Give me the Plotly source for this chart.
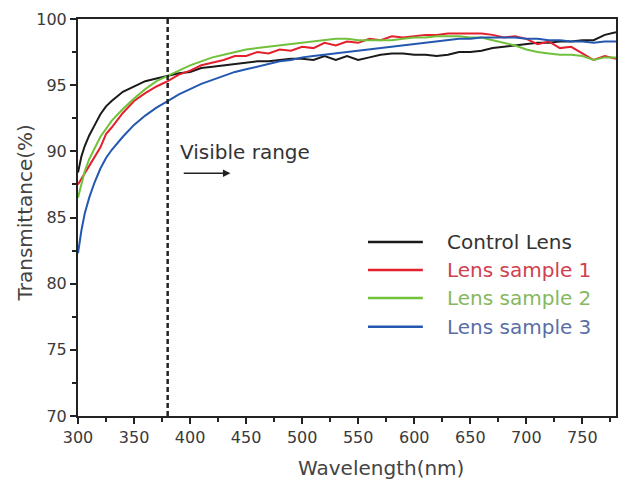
import plotly.graph_objects as go

# Longitudes de onda (nm) y transmitancia (%) de cada lente
wavelength = [300, 303, 306, 310, 315, 320, 325, 330, 340, 350, 360, 370, 380, 390,
              400, 410, 420, 430, 440, 450, 460, 470, 480, 490, 500, 510, 520, 530,
              540, 550, 560, 570, 580, 590, 600, 610, 620, 630, 640, 650, 660, 670,
              680, 690, 700, 710, 720, 730, 740, 750, 760, 770, 780]

control_lens = [88.4, 89.6, 90.4, 91.2, 92.0, 92.8, 93.4, 93.8, 94.5, 94.9, 95.3, 95.5, 95.7, 95.9,
                96.0, 96.3, 96.4, 96.5, 96.6, 96.7, 96.8, 96.8, 96.9, 97.0, 97.0, 96.9, 97.2, 96.9,
                97.2, 96.9, 97.1, 97.3, 97.4, 97.4, 97.3, 97.3, 97.2, 97.3, 97.5, 97.5, 97.6, 97.8,
                97.9, 98.0, 98.1, 98.2, 98.2, 98.3, 98.3, 98.4, 98.4, 98.8, 99.0]

lens_sample_1 = [87.5, 87.9, 88.3, 88.9, 89.6, 90.3, 91.3, 91.8, 92.9, 93.8, 94.4, 94.9, 95.3, 95.8,
                 96.1, 96.5, 96.7, 96.9, 97.2, 97.2, 97.5, 97.4, 97.7, 97.6, 97.9, 97.8, 98.2, 98.0,
                 98.3, 98.2, 98.5, 98.4, 98.7, 98.6, 98.7, 98.8, 98.8, 98.9, 98.9, 98.9, 98.9, 98.8,
                 98.6, 98.7, 98.5, 98.1, 98.3, 97.8, 97.9, 97.4, 96.9, 97.2, 97.0]

lens_sample_2 = [86.5, 87.6, 88.5, 89.4, 90.3, 91.1, 91.7, 92.3, 93.2, 94.0, 94.7, 95.3, 95.7, 96.1,
                 96.5, 96.8, 97.1, 97.3, 97.5, 97.7, 97.8, 97.9, 98.0, 98.1, 98.2, 98.3, 98.4, 98.5,
                 98.5, 98.4, 98.4, 98.4, 98.4, 98.5, 98.6, 98.6, 98.7, 98.7, 98.7, 98.6, 98.6, 98.4,
                 98.2, 98.0, 97.7, 97.5, 97.4, 97.3, 97.3, 97.2, 96.9, 97.1, 97.1]

lens_sample_3 = [82.3, 84.0, 85.3, 86.5, 87.7, 88.7, 89.5, 90.1, 91.1, 92.0, 92.7, 93.3, 93.8, 94.3,
                 94.7, 95.1, 95.4, 95.7, 96.0, 96.2, 96.4, 96.6, 96.8, 96.9, 97.1, 97.2, 97.3, 97.4,
                 97.5, 97.6, 97.7, 97.8, 97.9, 98.0, 98.1, 98.2, 98.3, 98.4, 98.5, 98.5, 98.6, 98.6,
                 98.6, 98.6, 98.5, 98.5, 98.4, 98.4, 98.3, 98.3, 98.2, 98.3, 98.3]

series = [
    ("Control Lens", control_lens, "#1a1a1a", "#333333"),
    ("Lens sample 1", lens_sample_1, "#e3202c", "#d0404e"),
    ("Lens sample 2", lens_sample_2, "#72c13c", "#86b860"),
    ("Lens sample 3", lens_sample_3, "#2458b0", "#5a6ea6"),
]

FONT = "DejaVu Sans, Arial, sans-serif"

fig = go.Figure()
for name, values, color, text_color in series:
    fig.add_trace(go.Scatter(
        x=wavelength, y=values, mode="lines", name=name,
        line=dict(color=color, width=2), showlegend=False,
    ))

# Leyenda dibujada a mano (linea mas larga y textos en color)
legend_rows = [0.438, 0.368, 0.297, 0.225]
for (name, values, color, text_color), ly in zip(series, legend_rows):
    fig.add_shape(type="line", xref="paper", yref="paper",
                  x0=0.539, x1=0.641, y0=ly, y1=ly,
                  line=dict(color=color, width=2.5))
    fig.add_annotation(xref="paper", yref="paper", x=0.683, y=ly, text=name,
                       showarrow=False, xanchor="left", yanchor="middle",
                       font=dict(family=FONT, size=20, color=text_color))

# Linea discontinua del inicio del rango visible
fig.add_shape(type="line", x0=380, x1=380, y0=70, y1=100, xref="x", yref="y",
              line=dict(color="#222222", width=2.5, dash="5px,3px"))

fig.add_annotation(x=389, y=89.95, text="Visible range", showarrow=False,
                   xanchor="left", yanchor="middle",
                   font=dict(family=FONT, size=20, color="#333333"))
fig.add_annotation(x=436, y=88.35, ax=393, ay=88.35, xref="x", yref="y",
                   axref="x", ayref="y", text="", showarrow=True,
                   arrowhead=2, arrowsize=1, arrowwidth=1.5, arrowcolor="#222222")

# Titulos de los ejes
fig.add_annotation(xref="paper", yref="paper", x=0.563, y=-0.131,
                   text="Wavelength(nm)", showarrow=False,
                   xanchor="center", yanchor="middle",
                   font=dict(family=FONT, size=20, color="#444444"))
fig.add_annotation(xref="paper", yref="paper", x=-0.0985, y=0.51,
                   text="Transmittance(%)", showarrow=False, textangle=-90,
                   xanchor="center", yanchor="middle",
                   font=dict(family=FONT, size=20, color="#444444"))

# La pagina tiene 8 px de margen en el body: se compensa aqui
fig.update_layout(
    width=626, height=482,
    margin=dict(l=70, r=18, t=11, b=74),
    paper_bgcolor="white", plot_bgcolor="white",
    font=dict(family=FONT, color="#444444"),
    showlegend=False,
)

fig.update_xaxes(
    range=[300, 780], tickmode="array", automargin=False,
    tickvals=[300, 350, 400, 450, 500, 550, 600, 650, 700, 750],
    ticks="outside", ticklen=6, tickwidth=1.5, tickcolor="#222222",
    minor=dict(tickvals=[325, 375, 425, 475, 525, 575, 625, 675, 725, 775],
               ticks="outside", ticklen=4, tickwidth=1.5, tickcolor="#222222"),
    showline=True, linecolor="#222222", linewidth=2, mirror=True,
    showgrid=False, zeroline=False,
    tickfont=dict(size=16, color="#3a3a3a"),
)

fig.update_yaxes(
    range=[70, 100], tickmode="array", automargin=False,
    tickvals=[70, 75, 80, 85, 90, 95, 100],
    ticks="outside", ticklen=6, tickwidth=1.5, tickcolor="#222222",
    minor=dict(tickvals=[72.5, 77.5, 82.5, 87.5, 92.5, 97.5],
               ticks="outside", ticklen=4, tickwidth=1.5, tickcolor="#222222"),
    showline=True, linecolor="#222222", linewidth=2, mirror=True,
    showgrid=False, zeroline=False,
    tickfont=dict(size=16, color="#3a3a3a"),
)

fig.write_html("out.html")
